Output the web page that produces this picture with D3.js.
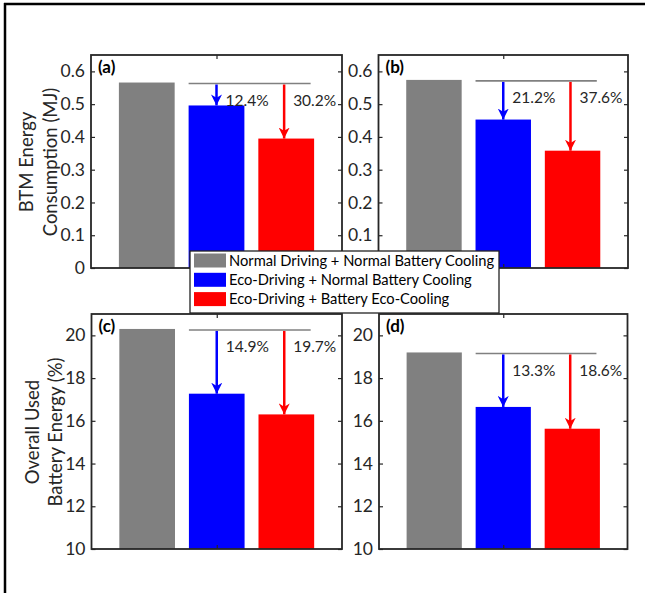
<!DOCTYPE html>
<html>
<head>
<meta charset="utf-8">
<script src="https://cdn.jsdelivr.net/npm/d3@7"></script>
<style>
  html, body { margin: 0; padding: 0; background: #fff; }
  svg { display: block; font-family: Lato, "Open Sans", sans-serif; }
</style>
</head>
<body>
<svg id="fig" width="645" height="593"></svg>
<script>
// Scenario names and colours (shared by all four panels)
const scenarios = [
  "Normal Driving + Normal Battery Cooling",
  "Eco-Driving + Normal Battery Cooling",
  "Eco-Driving + Battery Eco-Cooling"
];
const scenarioColors = ["#808080", "#0000ff", "#ff0000"];

// BTM energy consumption (MJ)
const btmA = [0.566, 0.496, 0.395];
const btmB = [0.574, 0.453, 0.358];
// Overall used battery energy (%)
const usedC = [20.3, 17.27, 16.3];
const usedD = [19.2, 16.65, 15.63];

// Reduction relative to the baseline scenario (%)
const redA = [12.4, 30.2];
const redB = [21.2, 37.6];
const redC = [14.9, 19.7];
const redD = [13.3, 18.6];

// Axis ticks
const btmTicks = [0, 0.1, 0.2, 0.3, 0.4, 0.5, 0.6];
const usedTicks = [10, 12, 14, 16, 18, 20];
const btmDomain = [0, 0.65];
const usedDomain = [10, 21];

const svg = d3.select("#fig");
const axisColor = "#262626";

// outer frame (top and left edges)
svg.append("line").attr("x1", 4).attr("x2", 645).attr("y1", 4).attr("y2", 4)
  .attr("stroke", "#000").attr("stroke-width", 2.5);
svg.append("line").attr("x1", 5).attr("x2", 5).attr("y1", 3).attr("y2", 593)
  .attr("stroke", "#000").attr("stroke-width", 2.5);

// panel (b) sits beside the legend, whose box hides its zero label
const panels = [
  { tag: "(a)", vals: btmA, red: redA, ticks: btmTicks, domain: btmDomain,
    labelTicks: btmTicks, box: { l: 91, r: 342, t: 55, b: 268 } },
  { tag: "(b)", vals: btmB, red: redB, ticks: btmTicks, domain: btmDomain,
    labelTicks: btmTicks.slice(1), box: { l: 378.5, r: 628, t: 55, b: 268 } },
  { tag: "(c)", vals: usedC, red: redC, ticks: usedTicks, domain: usedDomain,
    labelTicks: usedTicks, box: { l: 91.5, r: 342, t: 314, b: 549 } },
  { tag: "(d)", vals: usedD, red: redD, ticks: usedTicks, domain: usedDomain,
    labelTicks: usedTicks, box: { l: 379, r: 627.5, t: 314, b: 549 } }
];

// arrow head marker per colour
const defs = svg.append("defs");
scenarioColors.slice(1).forEach((c, i) => {
  defs.append("marker")
    .attr("id", "head" + i)
    .attr("viewBox", "0 0 10 10")
    .attr("refX", 10).attr("refY", 5)
    .attr("markerWidth", 11).attr("markerHeight", 11)
    .attr("markerUnits", "userSpaceOnUse")
    .attr("orient", "auto")
    .append("path")
    .attr("d", "M0,0 L10,5 L0,10 L3,5 Z")
    .attr("fill", c);
});

panels.forEach(p => {
  const { l, r, t, b } = p.box;
  const x = d3.scaleLinear().domain([0.2, 3.8]).range([l, r]);
  const y = d3.scaleLinear().domain(p.domain).range([b, t]);
  const g = svg.append("g");

  // bars
  g.selectAll("rect.bar").data(p.vals).join("rect")
    .attr("class", "bar")
    .attr("x", (d, i) => x(i + 1 - 0.4))
    .attr("width", (d, i) => x(i + 1 + 0.4) - x(i + 1 - 0.4))
    .attr("y", d => y(d))
    .attr("height", d => y(p.domain[0]) - y(d))
    .attr("fill", (d, i) => scenarioColors[i]);

  // baseline reference line
  const yBase = y(p.vals[0]) + 1;
  g.append("line")
    .attr("x1", x(1.6)).attr("x2", x(3.35))
    .attr("y1", yBase).attr("y2", yBase)
    .attr("stroke", "#808080").attr("stroke-width", 1.6);

  // reduction arrows and labels
  const arrowX = [2, 2.97];
  p.red.forEach((pct, k) => {
    const ax = x(arrowX[k]);
    g.append("line")
      .attr("x1", ax).attr("x2", ax)
      .attr("y1", yBase + 1).attr("y2", y(p.vals[k + 1]))
      .attr("stroke", scenarioColors[k + 1]).attr("stroke-width", 2.5)
      .attr("marker-end", `url(#head${k})`);
    g.append("text")
      .attr("x", ax + 9).attr("y", yBase + 17)
      .attr("dy", "0.35em")
      .attr("font-size", 15.5).attr("fill", "#262626")
      .text(pct.toFixed(1) + "%");
  });

  // axes with inward ticks on all four sides
  const left = d3.axisLeft(y).tickValues(p.ticks).tickSizeInner(-4).tickSizeOuter(0)
    .tickPadding(6).tickFormat(d => p.labelTicks.includes(d) ? d3.format("")(d) : "");
  const right = d3.axisRight(y).tickValues(p.ticks).tickSizeInner(-4).tickSizeOuter(0)
    .tickFormat("");
  const bottom = d3.axisBottom(x).tickValues([2]).tickSizeInner(-4).tickSizeOuter(0).tickFormat("");
  const top = d3.axisTop(x).tickValues([2]).tickSizeInner(-4).tickSizeOuter(0).tickFormat("");

  const ga = g.append("g").attr("transform", `translate(${l},0)`).call(left);
  g.append("g").attr("transform", `translate(${r},0)`).call(right);
  g.append("g").attr("transform", `translate(0,${b})`).call(bottom);
  g.append("g").attr("transform", `translate(0,${t})`).call(top);
  g.selectAll(".domain").remove();
  g.selectAll(".tick line").attr("stroke", axisColor).attr("stroke-width", 1.2);
  ga.selectAll("text").attr("font-size", 17.5).attr("fill", axisColor)
    .attr("font-family", "Lato, sans-serif");

  // frame
  g.append("rect")
    .attr("x", l).attr("y", t).attr("width", r - l).attr("height", b - t)
    .attr("fill", "none").attr("stroke", axisColor).attr("stroke-width", 1.8);

  // panel tag
  g.append("text")
    .attr("x", l + 7).attr("y", t + 12).attr("dy", "0.35em")
    .attr("font-size", 17).attr("font-weight", "bold").attr("fill", "#000")
    .text(p.tag);
});

// y-axis titles
function yTitle(lines, cx, cy) {
  const t = svg.append("text")
    .attr("transform", `translate(${cx},${cy}) rotate(-90)`)
    .attr("text-anchor", "middle")
    .attr("font-size", 18.5).attr("fill", axisColor);
  lines.forEach((s, i) => {
    t.append("tspan").attr("x", 0).attr("dy", i === 0 ? 0 : 23.5).text(s);
  });
}
yTitle(["BTM Energy", "Consumption (MJ)"], 33, 162);
yTitle(["Overall Used", "Battery Energy (%)"], 38.5, 432);

// legend
const lg = svg.append("g");
lg.append("rect").attr("x", 190).attr("y", 251).attr("width", 309).attr("height", 62)
  .attr("fill", "#fff").attr("stroke", "#222").attr("stroke-width", 1.3);
scenarios.forEach((name, i) => {
  const ry = 253.5 + i * 19.3;
  lg.append("rect").attr("x", 194).attr("y", ry).attr("width", 32).attr("height", 14)
    .attr("fill", scenarioColors[i]);
  lg.append("text").attr("x", 229).attr("y", ry + 7).attr("dy", "0.35em")
    .attr("font-size", 14.7).attr("fill", "#000").text(name);
});
</script>
</body>
</html>
